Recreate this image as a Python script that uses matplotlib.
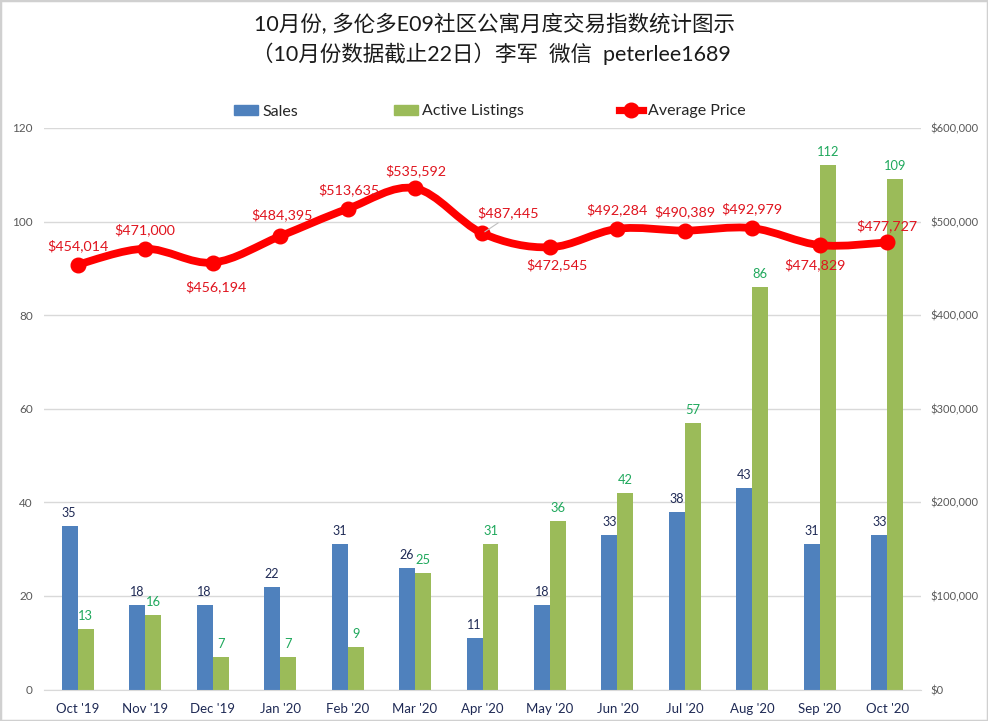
import numpy as np
import matplotlib
matplotlib.use("Agg")
import matplotlib.pyplot as plt
from matplotlib.path import Path
from matplotlib.patches import PathPatch, Rectangle
from matplotlib.lines import Line2D

plt.rcParams['font.family'] = ['Lato', 'Noto Sans CJK SC', 'DejaVu Sans']

months = ["Oct '19", "Nov '19", "Dec '19", "Jan '20", "Feb '20", "Mar '20", "Apr '20",
          "May '20", "Jun '20", "Jul '20", "Aug '20", "Sep '20", "Oct '20"]
sales = [35, 18, 18, 22, 31, 26, 11, 18, 33, 38, 43, 31, 33]
listings = [13, 16, 7, 7, 9, 25, 31, 36, 42, 57, 86, 112, 109]
prices = [454014, 471000, 456194, 484395, 513635, 535592, 487445,
          472545, 492284, 490389, 492979, 474829, 477727]
title_lines = ["10月份, 多伦多E09社区公寓月度交易指数统计图示",
               "（10月份数据截止22日）李军  微信  peterlee1689"]

# label offsets from the point, in pixels
price_dx = [0, 0, 3, 2, 1, 1, 26, 7, 0, 0, 0, -5, 0]
price_dy = [19, 19, -24, 21, 19, 18, 21, -17, 19, 19, 19, -20, 17]
sales_dx = [-9, -8, -8, -8, -8, -8, -8, -8, -8, -8, -8, -8, -8]
listing_dx = [8, 8, 8, 8, 8, 8, 8, 8, 8, 8, 8, 8, 8]

W, H = 988, 721
fig = plt.figure(figsize=(W / 100, H / 100), dpi=100, facecolor='white')
L, R, T, B = 44, 921, 128, 689.5
ax = fig.add_axes([L / W, 1 - B / H, (R - L) / W, (B - T) / H])
ax2 = ax.twinx()
ax.set_zorder(1); ax2.set_zorder(2); ax2.patch.set_visible(False)

x = np.arange(len(months))
bw = 0.237
ax.bar(x - bw / 2, sales, bw, color='#4F81BD', label='Sales', zorder=2)
ax.bar(x + bw / 2, listings, bw, color='#9BBB59', label='Active Listings', zorder=2)
ax.set_xlim(-0.5, len(months) - 0.5)
ax.set_ylim(0, 120)
ax.set_yticks(range(0, 121, 20))
ax.yaxis.grid(True, color='#D9D9D9', lw=1)
ax.set_axisbelow(True)
ax.set_xticks(x, months)
ax.tick_params(axis='x', length=0, labelsize=9.5, labelcolor='#1F2A55', pad=10)
ax.tick_params(axis='y', length=0, labelsize=8.5, labelcolor='#595959', pad=8)
for s in ax.spines.values():
    s.set_visible(False)
ax.spines['bottom'].set_visible(True)
ax.spines['bottom'].set_color('#D9D9D9')

ax2.set_ylim(0, 600000)
ax2.set_yticks(range(0, 600001, 100000))
ax2.set_yticklabels(['$0' if v == 0 else f'${v:,}' for v in range(0, 600001, 100000)])
ax2.tick_params(axis='y', length=0, labelsize=8, labelcolor='#595959', pad=7)
for s in ax2.spines.values():
    s.set_visible(False)

# smoothed line (Catmull-Rom style Bezier through the points)
p = np.column_stack([x, prices]).astype(float)
verts = [p[0]]; codes = [Path.MOVETO]
for i in range(len(p) - 1):
    p0 = p[max(i - 1, 0)]; p1 = p[i]; p2 = p[i + 1]; p3 = p[min(i + 2, len(p) - 1)]
    verts += [p1 + (p2 - p0) / 6, p2 - (p3 - p1) / 6, p2]
    codes += [Path.CURVE4] * 3
ax2.add_patch(PathPatch(Path(verts, codes), fc='none', ec='#FF0000', lw=5.6,
                        capstyle='round', zorder=3))
ax2.plot(x, prices, ls='none', marker='o', ms=10.5, color='#FF0000', zorder=4)

px = 0.72
for i, v in enumerate(prices):
    dx, dy = price_dx[i], price_dy[i]
    ax2.annotate(f'${v:,}', (i, v), xytext=(dx * px, dy * px), textcoords='offset points',
                 ha='center', va='center', fontsize=10.3, color='#E0141E', zorder=6)
    if i == 6:
        ax2.annotate('', (i, v), xytext=((dx - 8) * px, (dy - 9) * px), textcoords='offset points',
                     arrowprops=dict(arrowstyle='-', color='#BFBFBF', lw=0.8), zorder=5)
for i, v in enumerate(sales):
    ax2.annotate(str(v), (i, v * 5000), xytext=(sales_dx[i] * px, 13 * px), textcoords='offset points',
                 ha='center', va='center', fontsize=9, color='#1F2A55', zorder=5)
for i, v in enumerate(listings):
    ax2.annotate(str(v), (i, v * 5000), xytext=(listing_dx[i] * px, 13 * px), textcoords='offset points',
                 ha='center', va='center', fontsize=9.3, color='#1FA85C', zorder=5)

handles = [Rectangle((0, 0), 1, 1, color='#4F81BD'),
           Rectangle((0, 0), 1, 1, color='#9BBB59'),
           Line2D([], [], color='#FF0000', lw=5.2, marker='o', ms=10.5)]
leg = fig.legend(handles, ['Sales', 'Active Listings', 'Average Price'], ncol=3,
                 loc='center', bbox_to_anchor=(490 / W, 1 - 111.5 / H), frameon=False,
                 fontsize=11.5, handlelength=1.5, handleheight=0.6, handletextpad=0.3,
                 columnspacing=5.95, labelcolor='#262626')

fig.text(494 / W, 1 - 25 / H, title_lines[0], ha='center', va='center', fontsize=15.5, color='#1A1A1A')
fig.text(491 / W, 1 - 54 / H, title_lines[1], ha='center', va='center', fontsize=15.5, color='#1A1A1A')

fig.add_artist(Rectangle((0, 0), 1, 1, transform=fig.transFigure, fc='none', ec='#D0D0D0', lw=2.5))
fig.savefig('out.png', dpi=100)
